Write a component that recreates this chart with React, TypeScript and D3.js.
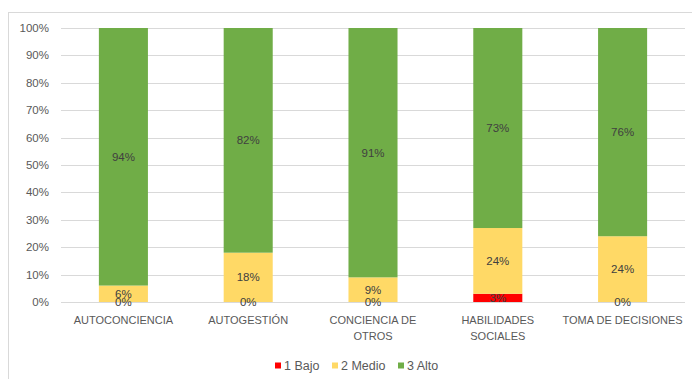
import React from "react";
import * as d3 from "d3";

const categories = ["AUTOCONCIENCIA", "AUTOGESTIÓN", "CONCIENCIA DE OTROS", "HABILIDADES SOCIALES", "TOMA DE DECISIONES"];
const categoryLines = [["AUTOCONCIENCIA"], ["AUTOGESTIÓN"], ["CONCIENCIA DE", "OTROS"], ["HABILIDADES", "SOCIALES"], ["TOMA DE DECISIONES"]];
const bajo = [0, 0, 0, 3, 0];
const medio = [6, 18, 9, 24, 24];
const alto = [94, 82, 91, 73, 76];
const seriesNames = ["1 Bajo", "2 Medio", "3 Alto"];
const seriesColors = ["#FF0000", "#FFD966", "#70AD47"];
const yTicks = [0, 10, 20, 30, 40, 50, 60, 70, 80, 90, 100];

const W = 692, H = 379;
const plotL = 61, plotR = 685, plotT = 28, plotB = 302;
const font = "'Liberation Sans', Arial, sans-serif";

export default function App() {
  const x = d3.scaleBand<string>().domain(categories).range([plotL, plotR]).paddingInner(0.607).paddingOuter(0.3035);
  const y = d3.scaleLinear().domain([0, 100]).range([plotB, plotT]);
  const rows = categories.map((c, i) => ({ cat: c, bajo: bajo[i], medio: medio[i], alto: alto[i] }));
  const stack = d3.stack<any>().keys(["bajo", "medio", "alto"]).offset(d3.stackOffsetExpand);
  const series = stack(rows);

  return (
    <svg width={W} height={H} style={{ position: "absolute", left: 0, top: 0 }} fontFamily={font}>
      <rect x={0} y={0} width={W} height={H} fill="#fff" />
      <rect x={8.5} y={12.5} width={700} height={380} fill="#fff" stroke="#D9D9D9" />
      {yTicks.map((t) => (
        <g key={t}>
          <line x1={plotL} x2={plotR} y1={Math.round(y(t)) + 0.5} y2={Math.round(y(t)) + 0.5} stroke="#D9D9D9" />
          <text x={49} y={y(t)} dy="0.35em" textAnchor="end" fontSize={11.5} fill="#595959">{t}%</text>
        </g>
      ))}
      {series.map((s, si) => (
        <g key={si}>
          {s.map((d, i) => (
            <rect key={i} x={x(categories[i])} width={x.bandwidth()} y={y(d[1] * 100)} height={y(d[0] * 100) - y(d[1] * 100)} fill={seriesColors[si]} />
          ))}
        </g>
      ))}
      {series.map((s, si) => (
        <g key={"l" + si}>
          {s.map((d, i) => {
            const v = [bajo, medio, alto][si][i];
            const cy = y(((d[0] + d[1]) / 2) * 100);
            return (
              <text key={i} x={x(categories[i])! + x.bandwidth() / 2} y={cy} dy="0.35em" textAnchor="middle" fontSize={11.5} fill="#404040">{v}%</text>
            );
          })}
        </g>
      ))}
      {categoryLines.map((lines, i) => (
        <text key={i} x={x(categories[i])! + x.bandwidth() / 2} y={324} textAnchor="middle" fontSize={11} fill="#595959">
          {lines.map((l, j) => (
            <tspan key={j} x={x(categories[i])! + x.bandwidth() / 2} dy={j === 0 ? 0 : 16}>{l}</tspan>
          ))}
        </text>
      ))}
      {seriesNames.map((n, i) => {
        const lx = [275, 332, 398][i];
        return (
          <g key={n}>
            <rect x={lx} y={362.5} width={6} height={6} fill={seriesColors[i]} />
            <text x={lx + 9} y={366} dy="0.35em" fontSize={12.5} fill="#595959">{n}</text>
          </g>
        );
      })}
    </svg>
  );
}
